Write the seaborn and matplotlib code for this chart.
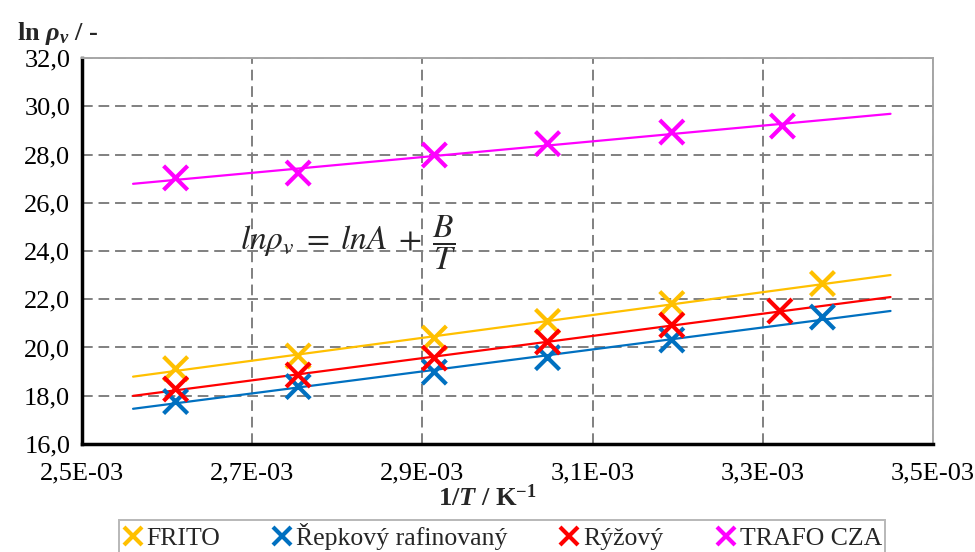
import numpy as np
import pandas as pd
import seaborn as sns
import matplotlib
matplotlib.use("Agg")
import matplotlib.pyplot as plt
from matplotlib.lines import Line2D
from matplotlib.ticker import FuncFormatter

# ---- data ----
series = ["FRITO", "Řepkový rafinovaný", "Rýžový", "TRAFO CZA"]
colors = ["#FFC000", "#0070C0", "#FF0000", "#FF00FF"]
x_frito = [0.002610, 0.002754, 0.002914, 0.003047, 0.003193, 0.003370]
y_frito = [19.12, 19.65, 20.39, 21.08, 21.82, 22.65]
x_repka = [0.002610, 0.002754, 0.002914, 0.003047, 0.003193, 0.003370]
y_repka = [17.76, 18.38, 18.98, 19.58, 20.31, 21.26]
x_ryze = [0.002610, 0.002754, 0.002914, 0.003047, 0.003193, 0.003320]
y_ryze = [18.28, 18.86, 19.56, 20.23, 20.93, 21.51]
x_trafo = [0.002610, 0.002754, 0.002914, 0.003047, 0.003193, 0.003323]
y_trafo = [27.03, 27.23, 27.98, 28.45, 28.93, 29.18]
trend_range = [0.00256, 0.00345]
x_ticks = [0.0025, 0.0027, 0.0029, 0.0031, 0.0033, 0.0035]
y_ticks = [16, 18, 20, 22, 24, 26, 28, 30, 32]

xs = [x_frito, x_repka, x_ryze, x_trafo]
ys = [y_frito, y_repka, y_ryze, y_trafo]

pts = pd.concat([pd.DataFrame({"x": x, "y": y, "s": s}) for x, y, s in zip(xs, ys, series)])
fits = []
for x, y, s in zip(xs, ys, series):
    k, q = np.polyfit(x, y, 1)
    xx = np.array(trend_range)
    fits.append(pd.DataFrame({"x": xx, "y": k * xx + q, "s": s}))
fits = pd.concat(fits)
pal = dict(zip(series, colors))

sns.set_style("white")
plt.rcParams["font.family"] = ["Liberation Serif", "DejaVu Serif"]
plt.rcParams["mathtext.fontset"] = "custom"
plt.rcParams["mathtext.rm"] = "Liberation Serif:bold"
plt.rcParams["mathtext.it"] = "Liberation Serif:italic:bold"
plt.rcParams["mathtext.bf"] = "Liberation Serif:bold"

fig = plt.figure(figsize=(9.75, 5.52), dpi=100)
ax = fig.add_axes([0.0841, 0.1957, 0.957 - 0.0841, 0.8949 - 0.1957])

sns.lineplot(data=fits, x="x", y="y", hue="s", palette=pal, ax=ax, legend=False,
             linewidth=1.6, estimator=None, sort=False)
sns.scatterplot(data=pts, x="x", y="y", hue="s", palette=pal, ax=ax, legend=False,
                marker="x", s=300, linewidth=3.0, zorder=5)

ax.set_xlim(x_ticks[0], x_ticks[-1])
ax.set_ylim(y_ticks[0], y_ticks[-1])
ax.set_xticks(x_ticks)
ax.set_yticks(y_ticks)
ax.xaxis.set_major_formatter(FuncFormatter(lambda v, p: f"{v:.1E}".replace(".", ",")))
ax.yaxis.set_major_formatter(FuncFormatter(lambda v, p: f"{v:.1f}".replace(".", ",")))
ax.tick_params(axis="both", which="major", direction="inout", length=9, width=2.5,
               labelsize=19, colors="black", pad=4)
ax.tick_params(axis="x", pad=9)

ax.grid(True, color="#808080", linestyle=(0, (5.5, 3)), linewidth=1.4)
for sp in ["left", "bottom"]:
    ax.spines[sp].set_color("black")
    ax.spines[sp].set_linewidth(2.5)
for sp in ["top", "right"]:
    ax.spines[sp].set_color("#A6A6A6")
    ax.spines[sp].set_linewidth(1.4)
ax.set_xlabel("")
ax.set_ylabel("")

# equation
ax.text(0.002813, 24.33, r"$ln\rho_v\;=\;lnA\;+\;\dfrac{B}{T}$", fontsize=24,
        ha="center", va="center", math_fontfamily="stix", zorder=6)

# axis titles
fig.text(0.017, 0.94, r"ln $\rho_v$ / -", fontsize=19, fontweight="bold",
         ha="left", va="center")
fig.text(0.50, 0.098, r"$\mathit{1/T}$ / K$^{\mathrm{-1}}$", fontsize=19,
         fontweight="bold", ha="center", va="center")

handles = [Line2D([], [], linestyle="none", marker="x", markersize=13,
                  markeredgewidth=3, color=c) for c in colors]
leg = fig.legend(handles, series, loc="upper center", bbox_to_anchor=(0.515, 0.058),
                 ncol=4, frameon=True, fontsize=18.5, handlelength=0.8, handletextpad=0.15,
                 columnspacing=2.0, fancybox=False, borderpad=0.12, borderaxespad=0)
leg.get_frame().set_edgecolor("#A6A6A6")
leg.get_frame().set_linewidth(1.4)

fig.savefig("out.png", dpi=100)
